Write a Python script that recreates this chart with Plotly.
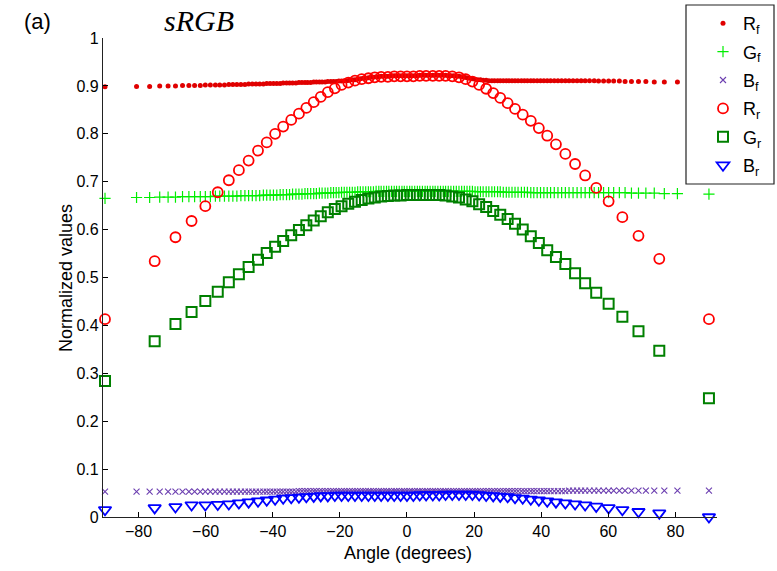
import plotly.graph_objects as go

# ---------------- data ----------------
# forward-sampled angles (degrees)
angle_f = [-90.0, -80.6, -76.7, -73.7, -71.2, -69.0, -66.9, -65.0, -63.3, -61.6,
           -60.1, -58.6, -57.1, -55.8, -54.4, -53.1, -51.9, -50.7, -49.5, -48.3,
           -47.2, -46.1, -45.0, -43.9, -42.8, -41.8, -40.8, -39.8, -38.8, -37.8,
           -36.9, -35.9, -35.0, -34.1, -33.1, -32.2, -31.3, -30.4, -29.6, -28.7,
           -27.8, -27.0, -26.1, -25.3, -24.4, -23.6, -22.7, -21.9, -21.1, -20.3,
           -19.5, -18.7, -17.9, -17.1, -16.3, -15.5, -14.7, -13.9, -13.1, -12.3,
           -11.5, -10.8, -10.0, -9.2, -8.4, -7.7, -6.9, -6.1, -5.4, -4.6,
           -3.8, -3.1, -2.3, -1.5, -0.8,
           0.0,
           0.8, 1.5, 2.3, 3.1, 3.8, 4.6, 5.4, 6.1, 6.9, 7.7,
           8.4, 9.2, 10.0, 10.8, 11.5, 12.3, 13.1, 13.9, 14.7, 15.5,
           16.3, 17.1, 17.9, 18.7, 19.5, 20.3, 21.1, 21.9, 22.7, 23.6,
           24.4, 25.3, 26.1, 27.0, 27.8, 28.7, 29.6, 30.4, 31.3, 32.2,
           33.1, 34.1, 35.0, 35.9, 36.9, 37.8, 38.8, 39.8, 40.8, 41.8,
           42.8, 43.9, 45.0, 46.1, 47.2, 48.3, 49.5, 50.7, 51.9, 53.1,
           54.4, 55.8, 57.1, 58.6, 60.1, 61.6, 63.3, 65.0, 66.9, 69.0,
           71.2, 73.7, 76.7, 80.6, 90.0]

R_f = [0.898, 0.899, 0.899, 0.900, 0.900, 0.900, 0.901, 0.901, 0.901, 0.901,
       0.902, 0.902, 0.902, 0.902, 0.902, 0.903, 0.903, 0.903, 0.903, 0.903,
       0.904, 0.904, 0.904, 0.904, 0.904, 0.905, 0.905, 0.905, 0.905, 0.905,
       0.906, 0.906, 0.906, 0.906, 0.906, 0.907, 0.907, 0.907, 0.907, 0.907,
       0.908, 0.908, 0.908, 0.908, 0.908, 0.909, 0.909, 0.909, 0.909, 0.910,
       0.910, 0.911, 0.911, 0.912, 0.913, 0.913, 0.914, 0.915, 0.916, 0.916,
       0.917, 0.918, 0.918, 0.919, 0.919, 0.920, 0.920, 0.920, 0.920, 0.921,
       0.921, 0.921, 0.921, 0.921, 0.921,
       0.921,
       0.921, 0.921, 0.921, 0.921, 0.922, 0.922, 0.922, 0.922, 0.922, 0.922,
       0.922, 0.922, 0.922, 0.922, 0.922, 0.921, 0.921, 0.921, 0.920, 0.920,
       0.919, 0.918, 0.917, 0.916, 0.915, 0.914, 0.913, 0.913, 0.912, 0.912,
       0.911, 0.911, 0.911, 0.911, 0.911, 0.911, 0.911, 0.911, 0.911, 0.911,
       0.911, 0.911, 0.911, 0.911, 0.911, 0.911, 0.911, 0.911, 0.911, 0.911,
       0.911, 0.911, 0.911, 0.911, 0.911, 0.911, 0.911, 0.911, 0.911, 0.911,
       0.911, 0.911, 0.910, 0.910, 0.910, 0.910, 0.910, 0.909, 0.909, 0.909,
       0.909, 0.908, 0.908, 0.908, 0.907]

G_f = [0.665, 0.667, 0.667, 0.668, 0.668, 0.668, 0.669, 0.669, 0.669, 0.669,
       0.669, 0.669, 0.670, 0.670, 0.670, 0.670, 0.670, 0.670, 0.671, 0.671,
       0.671, 0.671, 0.671, 0.671, 0.672, 0.672, 0.672, 0.672, 0.672, 0.673,
       0.673, 0.673, 0.673, 0.674, 0.674, 0.674, 0.674, 0.675, 0.675, 0.675,
       0.675, 0.675, 0.676, 0.676, 0.676, 0.676, 0.677, 0.677, 0.677, 0.677,
       0.678, 0.678, 0.678, 0.678, 0.678, 0.678, 0.679, 0.679, 0.679, 0.679,
       0.679, 0.679, 0.679, 0.680, 0.680, 0.680, 0.680, 0.680, 0.680, 0.680,
       0.680, 0.680, 0.680, 0.680, 0.680,
       0.680,
       0.680, 0.680, 0.680, 0.680, 0.680, 0.680, 0.680, 0.680, 0.680, 0.680,
       0.680, 0.680, 0.680, 0.680, 0.680, 0.680, 0.680, 0.680, 0.680, 0.680,
       0.680, 0.680, 0.680, 0.680, 0.680, 0.679, 0.679, 0.679, 0.679, 0.679,
       0.679, 0.679, 0.679, 0.679, 0.679, 0.678, 0.678, 0.678, 0.678, 0.678,
       0.678, 0.678, 0.678, 0.678, 0.677, 0.677, 0.677, 0.677, 0.677, 0.677,
       0.677, 0.677, 0.677, 0.677, 0.677, 0.677, 0.677, 0.677, 0.677, 0.677,
       0.677, 0.677, 0.677, 0.677, 0.677, 0.677, 0.677, 0.677, 0.676, 0.676,
       0.676, 0.676, 0.675, 0.675, 0.674]

B_f = [0.053, 0.053, 0.053, 0.053, 0.053, 0.053, 0.053, 0.053, 0.053, 0.053,
       0.053, 0.053, 0.053, 0.053, 0.053, 0.053, 0.053, 0.053, 0.053, 0.053,
       0.053, 0.053, 0.053, 0.053, 0.053, 0.053, 0.053, 0.053, 0.053, 0.053,
       0.053, 0.053, 0.053, 0.053, 0.053, 0.054, 0.054, 0.054, 0.054, 0.054,
       0.054, 0.054, 0.054, 0.054, 0.054, 0.054, 0.054, 0.054, 0.054, 0.054,
       0.054, 0.054, 0.054, 0.054, 0.054, 0.054, 0.054, 0.054, 0.054, 0.054,
       0.054, 0.054, 0.054, 0.054, 0.054, 0.054, 0.054, 0.054, 0.054, 0.054,
       0.054, 0.054, 0.054, 0.054, 0.054,
       0.054,
       0.054, 0.054, 0.054, 0.054, 0.054, 0.054, 0.054, 0.054, 0.054, 0.054,
       0.054, 0.054, 0.054, 0.054, 0.054, 0.054, 0.054, 0.054, 0.054, 0.054,
       0.054, 0.054, 0.054, 0.054, 0.054, 0.054, 0.054, 0.054, 0.054, 0.054,
       0.054, 0.054, 0.054, 0.054, 0.054, 0.054, 0.054, 0.054, 0.054, 0.054,
       0.054, 0.054, 0.054, 0.054, 0.054, 0.054, 0.054, 0.054, 0.054, 0.054,
       0.054, 0.054, 0.054, 0.054, 0.054, 0.055, 0.055, 0.055, 0.055, 0.055,
       0.055, 0.055, 0.055, 0.055, 0.055, 0.055, 0.055, 0.055, 0.055, 0.055,
       0.055, 0.055, 0.055, 0.055, 0.055]

# reverse-sampled angles (degrees)
angle_r = [-90.0, -75.2, -69.0, -64.2, -60.1, -56.4, -53.1, -50.1, -47.2, -44.4,
           -41.8, -39.3, -36.9, -34.5, -32.2, -30.0, -27.8, -25.7, -23.6, -21.5,
           -19.5, -17.5, -15.5, -13.5, -11.5, -9.6, -7.7, -5.7, -3.8, -1.9,
           0.0,
           1.9, 3.8, 5.7, 7.7, 9.6, 11.5, 13.5, 15.5, 17.5, 19.5,
           21.5, 23.6, 25.7, 27.8, 30.0, 32.2, 34.5, 36.9, 39.3, 41.8,
           44.4, 47.2, 50.1, 53.1, 56.4, 60.1, 64.2, 69.0, 75.2, 90.0]

R_r = [0.413, 0.534, 0.584, 0.618, 0.649, 0.678, 0.703, 0.724, 0.744, 0.765,
       0.782, 0.800, 0.815, 0.829, 0.842, 0.854, 0.866, 0.877, 0.887, 0.895,
       0.902, 0.907, 0.911, 0.914, 0.916, 0.918, 0.919, 0.919, 0.920, 0.920,
       0.920,
       0.920, 0.921, 0.921, 0.921, 0.921, 0.921, 0.920, 0.918, 0.914, 0.909,
       0.902, 0.894, 0.885, 0.875, 0.864, 0.852, 0.840, 0.827, 0.812, 0.796,
       0.778, 0.758, 0.737, 0.713, 0.687, 0.659, 0.626, 0.587, 0.539, 0.413]

G_r = [0.284, 0.367, 0.403, 0.428, 0.451, 0.470, 0.490, 0.507, 0.522, 0.537,
       0.551, 0.564, 0.576, 0.588, 0.599, 0.609, 0.619, 0.628, 0.636, 0.643,
       0.649, 0.654, 0.658, 0.662, 0.665, 0.667, 0.669, 0.670, 0.671, 0.671,
       0.672,
       0.672, 0.672, 0.672, 0.672, 0.672, 0.671, 0.669, 0.667, 0.663, 0.659,
       0.653, 0.647, 0.639, 0.631, 0.622, 0.612, 0.600, 0.586, 0.572, 0.557,
       0.543, 0.528, 0.509, 0.488, 0.468, 0.445, 0.418, 0.388, 0.347, 0.248]

B_r = [0.015, 0.019, 0.021, 0.025, 0.025, 0.026, 0.027, 0.029, 0.031, 0.033,
       0.035, 0.037, 0.039, 0.040, 0.041, 0.042, 0.043, 0.044, 0.044, 0.045,
       0.045, 0.045, 0.045, 0.045, 0.045, 0.045, 0.045, 0.045, 0.045, 0.045,
       0.045,
       0.045, 0.046, 0.046, 0.046, 0.046, 0.047, 0.047, 0.047, 0.047, 0.047,
       0.046, 0.045, 0.044, 0.043, 0.042, 0.040, 0.039, 0.037, 0.035, 0.033,
       0.031, 0.029, 0.027, 0.025, 0.022, 0.019, 0.015, 0.011, 0.008, 0.000]

x_ticks = [-80, -60, -40, -20, 0, 20, 40, 60, 80]
y_ticks = [0, 0.1, 0.2, 0.3, 0.4, 0.5, 0.6, 0.7, 0.8, 0.9, 1]
y_tick_labels = ["0", "0.1", "0.2", "0.3", "0.4", "0.5", "0.6", "0.7", "0.8", "0.9", "1"]

# ---------------- figure ----------------
SANS = "Liberation Sans, Arial, sans-serif"
L, R, T, B = 103, 717, 38, 517
PW, PH = R - L, B - T


def px_x(px):
    return (px - L) / PW


def px_y(py):
    return (B - py) / PH


fig = go.Figure()

series = [
    ("R<sub>f</sub>", angle_f, R_f, dict(symbol="circle", size=5, color="#e00000", line=dict(width=0))),
    ("G<sub>f</sub>", angle_f, G_f, dict(symbol="cross-thin", size=8, color="#00ee00", line=dict(width=1.2, color="#00ee00"))),
    ("B<sub>f</sub>", angle_f, B_f, dict(symbol="x-thin", size=6, color="#6c3fb0", line=dict(width=1.1, color="#6c3fb0"))),
    ("R<sub>r</sub>", angle_r, R_r, dict(symbol="circle-open", size=10, color="#ff0000", line=dict(width=1.8))),
    ("G<sub>r</sub>", angle_r, G_r, dict(symbol="square-open", size=10, color="#008000", line=dict(width=2))),
    ("B<sub>r</sub>", angle_r, B_r, dict(symbol="triangle-down-open", size=11, color="#0000ff", line=dict(width=1.8))),
]
for i, (name, xs, ys, mk) in enumerate(series):
    fig.add_trace(go.Scatter(x=xs, y=ys, mode="markers", name=name, marker=mk,
                             cliponaxis=False, legendgroup=str(i), hoverinfo="skip"))

fig.update_layout(
    width=777, height=571,
    margin=dict(l=L, r=777 - R, t=T, b=571 - B, autoexpand=False),
    plot_bgcolor="white", paper_bgcolor="white",
    font=dict(family=SANS, size=16, color="black"),
    showlegend=True,
    legend=dict(x=px_x(703), y=px_y(5), xanchor="left", yanchor="top",
                borderwidth=0, bgcolor="rgba(0,0,0,0)",
                font=dict(family=SANS, size=18, color="black"),
                tracegroupgap=2, itemsizing="trace"),
    xaxis=dict(range=[-90.6, 92.4], tickvals=x_ticks, ticks="inside", ticklen=5,
               tickcolor="black", showline=True, linecolor="#222222", linewidth=1.2,
               showgrid=False, zeroline=False, mirror=False,
               tickfont=dict(family=SANS, size=16, color="black")),
    yaxis=dict(range=[0, 1], tickvals=y_ticks, ticktext=y_tick_labels, ticks="inside",
               ticklen=5, tickcolor="black", showline=True, linecolor="#222222", linewidth=1.2,
               showgrid=False, zeroline=False, mirror=False,
               tickfont=dict(family=SANS, size=16, color="black")),
    shapes=[
        dict(type="rect", xref="paper", yref="paper", x0=px_x(686), x1=px_x(774),
             y0=px_y(184), y1=px_y(5), line=dict(color="#222222", width=1.2),
             fillcolor="white", layer="above"),
    ],
    annotations=[
        dict(text="Angle (degrees)", x=px_x(408), y=px_y(553), xref="paper", yref="paper",
             showarrow=False, xanchor="center", yanchor="middle", font=dict(family=SANS, size=18)),
        dict(text="Normalized values", x=px_x(66), y=px_y(278), xref="paper", yref="paper",
             showarrow=False, textangle=-90, xanchor="center", yanchor="middle", font=dict(family=SANS, size=18)),
        dict(text="<i>sRGB</i>", x=px_x(199), y=px_y(20), xref="paper", yref="paper",
             showarrow=False, xanchor="center", yanchor="middle",
             font=dict(family="Liberation Serif, Times New Roman, serif", size=30)),
        dict(text="(a)", x=px_x(37), y=px_y(21), xref="paper", yref="paper",
             showarrow=False, xanchor="center", yanchor="middle", font=dict(family=SANS, size=22)),
    ],
)

fig.write_html("out.html", config={"displayModeBar": False},
               post_script="document.body.style.margin='0';")
